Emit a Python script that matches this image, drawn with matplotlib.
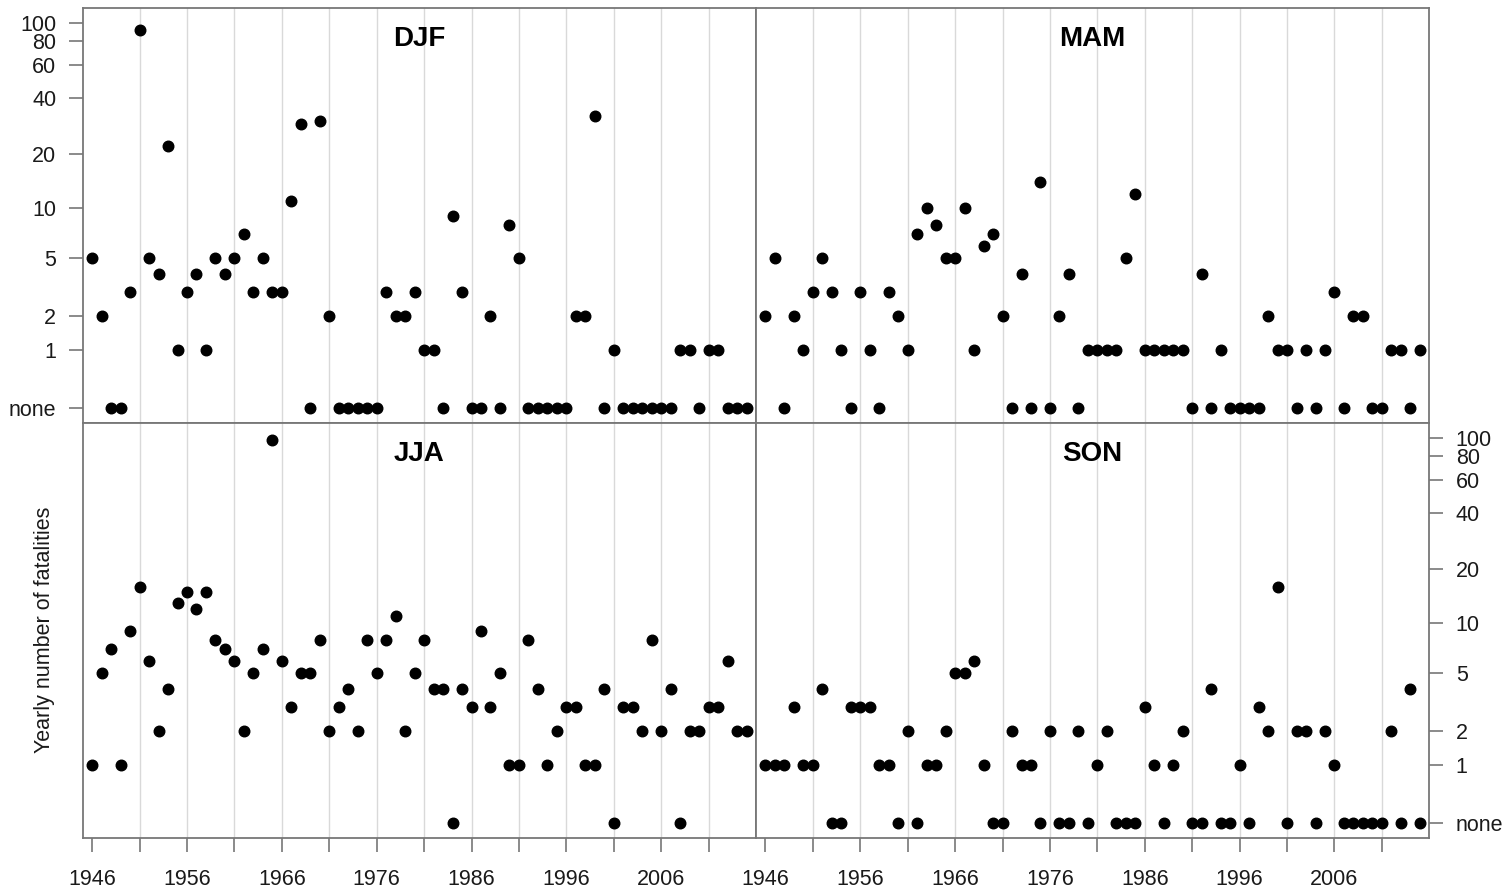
import numpy as np
import matplotlib
matplotlib.use("Agg")
import matplotlib.pyplot as plt

plt.rcParams['font.family'] = ['Liberation Sans', 'DejaVu Sans']

years = np.arange(1946, 2016)

djf = [5, 2, 0, 0, 3, 92, 5, 4, 22, 1,
       3, 4, 1, 5, 4, 5, 7, 3, 5, 3,
       3, 11, 29, 0, 30, 2, 0, 0, 0, 0,
       0, 3, 2, 2, 3, 1, 1, 0, 9, 3,
       0, 0, 2, 0, 8, 5, 0, 0, 0, 0,
       0, 2, 2, 32, 0, 1, 0, 0, 0, 0,
       0, 0, 1, 1, 0, 1, 1, 0, 0, 0]
mam = [2, 5, 0, 2, 1, 3, 5, 3, 1, 0,
       3, 1, 0, 3, 2, 1, 7, 10, 8, 5,
       5, 10, 1, 6, 7, 2, 0, 4, 0, 14,
       0, 2, 4, 0, 1, 1, 1, 1, 5, 12,
       1, 1, 1, 1, 1, 0, 4, 0, 1, 0,
       0, 0, 0, 2, 1, 1, 0, 1, 0, 1,
       3, 0, 2, 2, 0, 0, 1, 1, 0, 1]
jja = [1, 5, 7, 1, 9, 16, 6, 2, 4, 13,
       15, 12, 15, 8, 7, 6, 2, 5, 7, 98,
       6, 3, 5, 5, 8, 2, 3, 4, 2, 8,
       5, 8, 11, 2, 5, 8, 4, 4, 0, 4,
       3, 9, 3, 5, 1, 1, 8, 4, 1, 2,
       3, 3, 1, 1, 4, 0, 3, 3, 2, 8,
       2, 4, 0, 2, 2, 3, 3, 6, 2, 2]
son = [1, 1, 1, 3, 1, 1, 4, 0, 0, 3,
       3, 3, 1, 1, 0, 2, 0, 1, 1, 2,
       5, 5, 6, 1, 0, 0, 2, 1, 1, 0,
       2, 0, 0, 2, 0, 1, 2, 0, 0, 0,
       3, 1, 0, 1, 2, 0, 0, 4, 0, 0,
       1, 0, 3, 2, 16, 0, 2, 2, 0, 2,
       1, 0, 0, 0, 0, 0, 2, 0, 4, 0]

seasons = ["DJF", "MAM", "JJA", "SON"]
y_ticks = [0, 1, 2, 5, 10, 20, 40, 60, 80, 100]
y_ticklabels = ["none", "1", "2", "5", "10", "20", "40", "60", "80", "100"]
x_ticks = list(range(1946, 2012, 5))
x_ticklabels = [str(y) if (y - 1946) % 10 == 0 else "" for y in x_ticks]


def fwd(v):
    return np.log10(np.asarray(v, dtype=float) + 1)


def inv(t):
    return 10 ** np.asarray(t, dtype=float) - 1


W, H = 1506, 893
fig = plt.figure(figsize=(W / 100, H / 100), dpi=100)

frame_col = "#777777"
grid_col = "#d9d9d9"

# panel positions in pixels
lefts = [82.7, 756.0]
panel_w = 673.3
panel_h = 415.0
tops = [8.3, 423.3]

data = [djf, mam, jja, son]
for k, (name, vals) in enumerate(zip(seasons, data)):
    r, c = divmod(k, 2)
    top = tops[r]
    ax = fig.add_axes([lefts[c] / W, (H - top - panel_h) / H, panel_w / W, panel_h / H])
    ax.set_yscale("function", functions=(fwd, inv))
    ax.set_xlim(1945, 2016)
    ax.set_ylim(inv(-0.081), inv(2.081))

    for g in range(1951, 2016, 5):
        ax.axvline(g, color=grid_col, lw=1.0, zorder=0)

    ax.plot(years, vals, "o", color="black", ms=7.6, zorder=3)

    ax.text(0.5, 0.925, name, transform=ax.transAxes, ha="center", va="center",
            fontsize=20, fontweight="bold")

    for s in ax.spines.values():
        s.set_color(frame_col)
        s.set_linewidth(1.3)

    ax.tick_params(colors=frame_col, labelcolor="#1a1a1a", labelsize=15.5,
                   length=10, width=1.2)

    ax.set_yticks(y_ticks)
    ax.yaxis.set_minor_locator(matplotlib.ticker.NullLocator())
    ax.xaxis.set_minor_locator(matplotlib.ticker.NullLocator())
    if k == 0:
        ax.set_yticklabels(y_ticklabels)
        ax.tick_params(axis="y", pad=9)
    elif k == 3:
        ax.yaxis.tick_right()
        ax.set_yticklabels(y_ticklabels)
        ax.tick_params(axis="y", pad=9)
    else:
        ax.tick_params(axis="y", left=False, labelleft=False)

    if r == 1:
        ax.set_xticks(x_ticks)
        ax.set_xticklabels(x_ticklabels)
        ax.tick_params(axis="x", pad=12)
    else:
        ax.tick_params(axis="x", bottom=False, labelbottom=False)

fig.text(45 / W, 1 - 630 / H, "Yearly number of fatalities", rotation=90,
         ha="center", va="center", fontsize=15.5, color="#1a1a1a")

fig.savefig("out.png", dpi=100)
